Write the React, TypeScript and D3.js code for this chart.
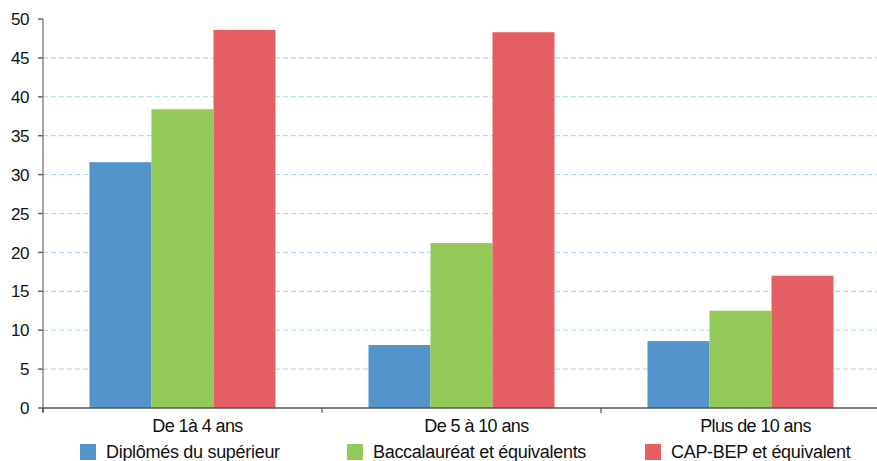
import React from "react";
import * as d3 from "d3";

const categories = ["De 1à 4 ans", "De 5 à 10 ans", "Plus de 10 ans"];
const seriesNames = ["Diplômés du supérieur", "Baccalauréat et équivalents", "CAP-BEP et équivalent"];
const superieur = [31.6, 8.1, 8.6];
const baccalaureat = [38.4, 21.2, 12.5];
const capBep = [48.6, 48.3, 17.0];
const yTicks = [0, 5, 10, 15, 20, 25, 30, 35, 40, 45, 50];
const colors = ["#5394cb", "#92c957", "#e55e63"];
const legendX = [80, 347, 645];

const W = 877;
const H = 461;
const FONT = "'Liberation Sans', Arial, sans-serif";

export default function App() {
  const series = [superieur, baccalaureat, capBep];
  const x0 = d3.scaleBand<string>().domain(categories).range([43, 880]).paddingInner(0).paddingOuter(0);
  const x1 = d3
    .scaleBand<string>()
    .domain(seriesNames)
    .range([0, x0.bandwidth()])
    .paddingInner(0)
    .paddingOuter(0.75);
  const y = d3.scaleLinear().domain([0, 50]).range([408, 19]);

  return (
    <svg width={W} height={H} style={{ position: "absolute", left: 0, top: 0, background: "#fff" }}>
      {/* gridlines */}
      {yTicks
        .filter((t) => t > 0 && t < 50)
        .map((t) => (
          <line
            key={"g" + t}
            x1={43}
            x2={W}
            y1={y(t)}
            y2={y(t)}
            stroke="#9ad8ee"
            strokeWidth={1}
            strokeDasharray="5,3"
          />
        ))}
      {/* bars */}
      {categories.map((c, ci) => (
        <g key={c} transform={`translate(${x0(c)},0)`}>
          {seriesNames.map((s, si) => (
            <rect
              key={s}
              x={x1(s)}
              y={y(series[si][ci])}
              width={x1.bandwidth()}
              height={y(0) - y(series[si][ci])}
              fill={colors[si]}
            />
          ))}
        </g>
      ))}
      {/* y axis */}
      <line x1={43} x2={43} y1={19} y2={412} stroke="#888" strokeWidth={1.5} />
      {yTicks.map((t) => (
        <g key={"t" + t}>
          <line x1={38} x2={43} y1={y(t)} y2={y(t)} stroke="#666" strokeWidth={1.5} />
          <text
            x={29}
            y={y(t)}
            dy="0.36em"
            textAnchor="end"
            fontFamily={FONT}
            fontSize={17}
            letterSpacing={-0.4}
            fill="#111"
          >
            {t}
          </text>
        </g>
      ))}
      {/* x axis */}
      <line x1={43} x2={W} y1={408} y2={408} stroke="#555" strokeWidth={1.5} />
      {categories.map((c) => (
        <line
          key={"xt" + c}
          x1={x0(c) as number}
          x2={x0(c) as number}
          y1={408}
          y2={413}
          stroke="#333"
          strokeWidth={1}
        />
      ))}
      {categories.map((c) => (
        <text
          key={"xl" + c}
          x={(x0(c) as number) + x0.bandwidth() / 2 + 15}
          y={432}
          textAnchor="middle"
          fontFamily={FONT}
          fontSize={18}
          letterSpacing={-0.6}
          fill="#111"
        >
          {c}
        </text>
      ))}
      {/* legend */}
      {seriesNames.map((s, si) => (
        <g key={"l" + s}>
          <rect x={legendX[si]} y={444} width={16} height={16} fill={colors[si]} />
          <text
            x={legendX[si] + 26}
            y={458}
            fontFamily={FONT}
            fontSize={18}
            letterSpacing={-0.3}
            fill="#111"
          >
            {s}
          </text>
        </g>
      ))}
    </svg>
  );
}
